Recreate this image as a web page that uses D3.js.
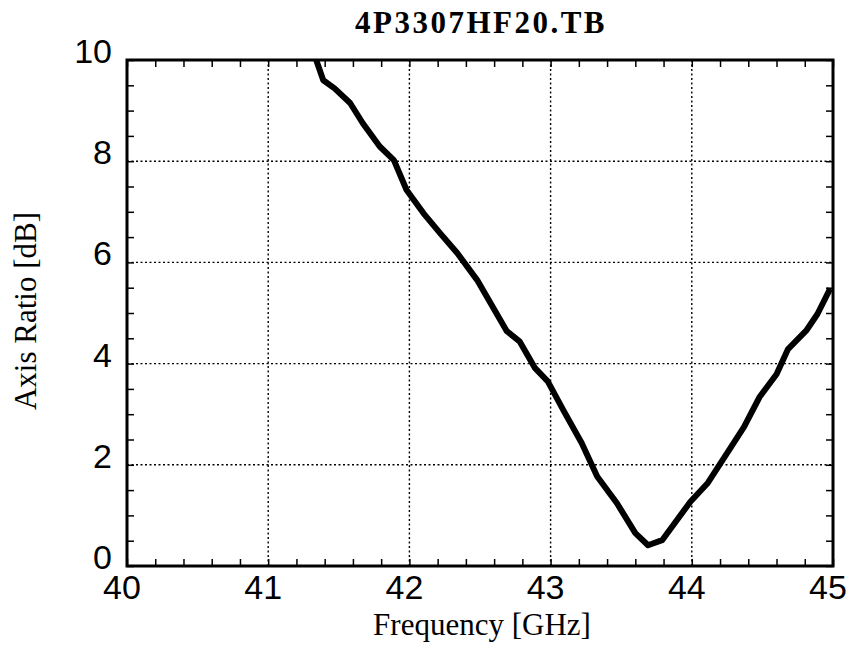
<!DOCTYPE html>
<html>
<head>
<meta charset="utf-8">
<script src="https://cdnjs.cloudflare.com/ajax/libs/d3/7.8.4/d3.min.js"></script>
<style>
  body { margin: 0; background: #fff; }
</style>
</head>
<body>
<div id="chart"></div>
<script>
// valeurs
const freq = [41.34, 41.39, 41.47, 41.58, 41.67, 41.79, 41.89, 41.98, 42.10, 42.22,
  42.34, 42.48, 42.69, 42.78, 42.89, 42.98, 43.09, 43.22, 43.33, 43.47,
  43.60, 43.69, 43.79, 43.99, 44.11, 44.25, 44.37, 44.48, 44.60, 44.68,
  44.81, 44.89, 44.98];
const axisRatio = [10.0, 9.6, 9.44, 9.15, 8.75, 8.29, 8.02, 7.43, 6.97, 6.57,
  6.18, 5.65, 4.64, 4.44, 3.91, 3.65, 3.08, 2.43, 1.77, 1.24,
  0.65, 0.41, 0.51, 1.27, 1.63, 2.23, 2.75, 3.34, 3.79, 4.28,
  4.65, 4.98, 5.48];
const xTicks = [40, 41, 42, 43, 44, 45];
const yTicks = [0, 2, 4, 6, 8, 10];
const titre = "4P3307HF20.TB";

const data = freq.map((f, i) => ({ f, ar: axisRatio[i] }));

const W = 853, H = 650;
const margin = { top: 60, right: 20, bottom: 84, left: 127 };
const width = W - margin.left - margin.right,
  height = H - margin.top - margin.bottom;

const svg = d3.select("#chart").append("svg")
  .attr("width", W).attr("height", H);
const g = svg.append("g")
  .attr("transform", `translate(${margin.left},${margin.top})`);

const x = d3.scaleLinear().domain([40, 45]).range([0, width]);
const y = d3.scaleLinear().domain([0, 10]).range([height, 0]);

// grille pointillée
g.append("g").selectAll("line").data(xTicks.slice(1, -1)).join("line")
  .attr("x1", d => x(d)).attr("x2", d => x(d))
  .attr("y1", 0).attr("y2", height)
  .attr("stroke", "#000").attr("stroke-width", 1.4)
  .attr("stroke-dasharray", "2,2.5");
g.append("g").selectAll("line").data(yTicks.slice(1, -1)).join("line")
  .attr("y1", d => y(d)).attr("y2", d => y(d))
  .attr("x1", 0).attr("x2", width)
  .attr("stroke", "#000").attr("stroke-width", 1.4)
  .attr("stroke-dasharray", "2,2.5");

// graduations intérieures
const xMinor = d3.range(40, 45.001, 0.2);
const yMinor = d3.range(0, 10.001, 0.5);

g.append("g").call(d3.axisBottom(x).tickValues(xMinor).tickSize(-7).tickFormat(""))
  .attr("transform", `translate(0,${height})`);
g.append("g").call(d3.axisTop(x).tickValues(xMinor).tickSize(-7).tickFormat(""));
g.append("g").call(d3.axisLeft(y).tickValues(yMinor).tickSize(-7).tickFormat(""));
g.append("g").call(d3.axisRight(y).tickValues(yMinor).tickSize(-7).tickFormat(""))
  .attr("transform", `translate(${width},0)`);
g.selectAll(".domain").remove();
g.selectAll(".tick line").attr("stroke", "#000").attr("stroke-width", 1.5);

// libellés des axes
g.append("g").selectAll("text").data(xTicks).join("text")
  .attr("x", d => x(d) - 5).attr("y", height + 33)
  .attr("text-anchor", "middle")
  .attr("font-family", "Liberation Sans, Arial, sans-serif")
  .attr("font-size", "34px")
  .text(d => d);
g.append("g").selectAll("text").data(yTicks).join("text")
  .attr("x", -15).attr("y", d => y(d) + 3)
  .attr("text-anchor", "end")
  .attr("font-family", "Liberation Sans, Arial, sans-serif")
  .attr("font-size", "34px")
  .text(d => d);

// courbe
g.append("clipPath").attr("id", "clip")
  .append("rect").attr("width", width).attr("height", height);
const ligne = d3.line().x(d => x(d.f)).y(d => y(d.ar));
g.append("path").datum(data)
  .attr("clip-path", "url(#clip)")
  .attr("fill", "none").attr("stroke", "#000")
  .attr("stroke-width", 6).attr("stroke-linejoin", "round")
  .attr("d", ligne);

// cadre
g.append("rect").attr("width", width).attr("height", height)
  .attr("fill", "none").attr("stroke", "#000").attr("stroke-width", 3);

// titres
svg.append("text")
  .attr("x", margin.left + width / 2 + 1).attr("y", 33)
  .attr("text-anchor", "middle")
  .attr("font-family", "Liberation Serif, Times New Roman, serif")
  .attr("font-weight", "bold").attr("font-size", "31px")
  .attr("letter-spacing", "2.5px")
  .text(titre);
svg.append("text")
  .attr("x", margin.left + width / 2 + 2).attr("y", 635)
  .attr("text-anchor", "middle")
  .attr("font-family", "Liberation Serif, Times New Roman, serif")
  .attr("font-size", "31px")
  .text("Frequency [GHz]");
svg.append("text")
  .attr("transform", "translate(36,311) rotate(-90)")
  .attr("text-anchor", "middle")
  .attr("font-family", "Liberation Serif, Times New Roman, serif")
  .attr("font-size", "31px")
  .text("Axis Ratio [dB]");
</script>
</body>
</html>
